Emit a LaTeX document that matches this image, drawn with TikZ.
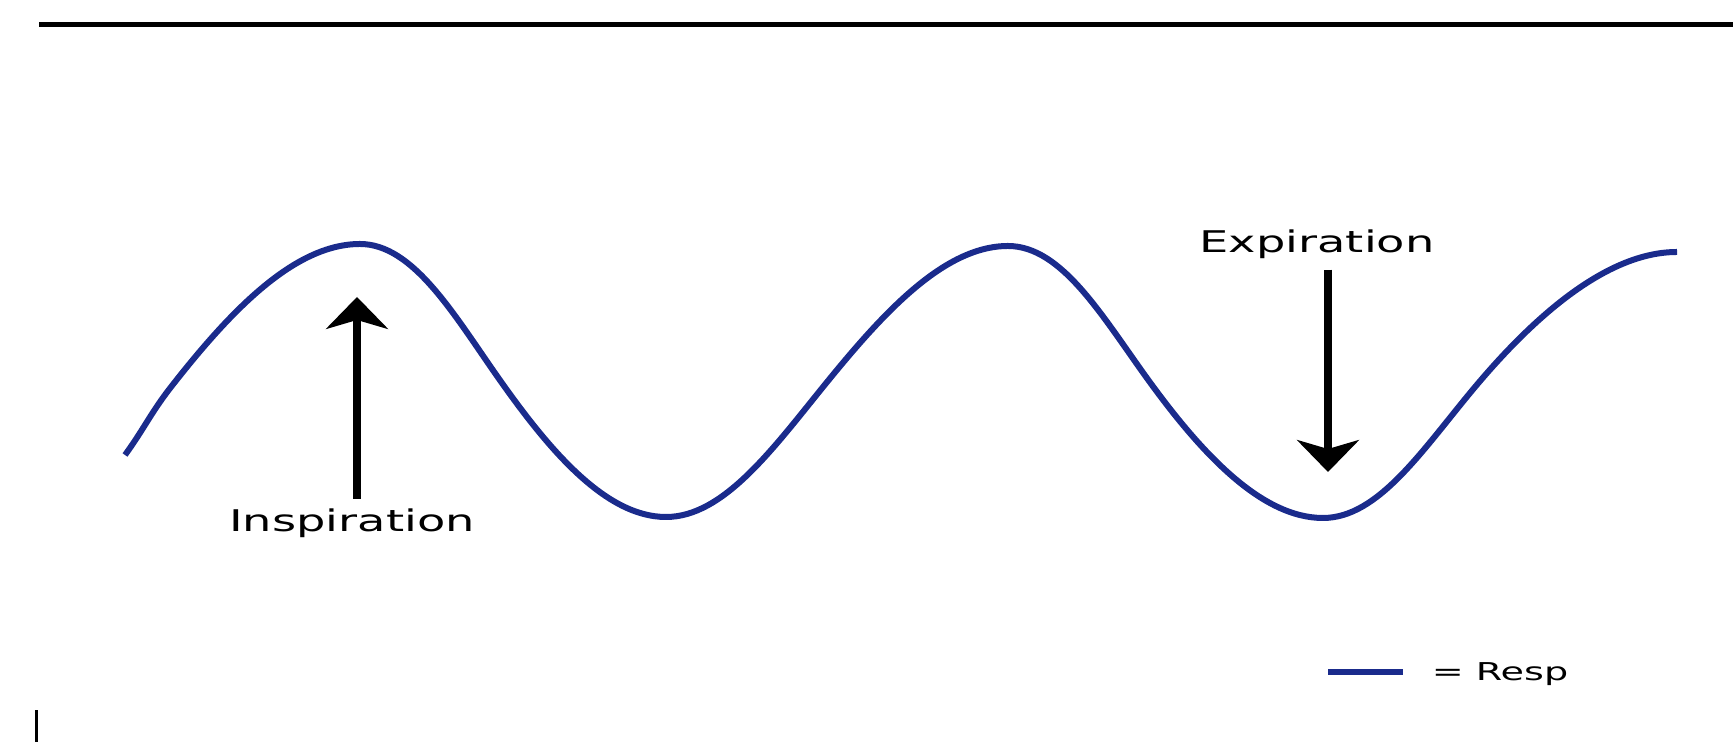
\documentclass[tikz,border=0pt]{standalone}
\usepackage{fontspec}
\setmainfont{DejaVu Sans}
\usepackage{graphicx}
\usepackage{xcolor}
\definecolor{respblue}{HTML}{1A2B8C}
\usepackage{tikz}
\usetikzlibrary{arrows.meta,positioning}
\tikzset{
  respwave/.style={draw=respblue,line width=0.12cm},
  toextreme/.style={out looseness=1.03,in looseness=0.71},
  fromextreme/.style={out looseness=0.71,in looseness=1.03},
  respflow/.style={-{Stealth[length=0.64cm,width=1.24cm,inset=0.18cm]},line width=0.15cm},
  resplabel/.style={font=\fontsize{17}{20}\selectfont,inner sep=0.2cm,anchor=base},
  respkey/.style={font=\fontsize{14}{17}\selectfont,inner sep=0pt,anchor=base},
}
\newcommand{\respwide}[1]{\scalebox{1.55}[1]{#1}}

\begin{document}
\begin{tikzpicture}[x=0.02cm,y=0.02cm]
\useasboundingbox (0,0) rectangle (1733,742);
% slide rule and corner mark
\draw[line width=0.1cm] (39,717) -- (1733,717);
\draw[line width=0.07cm] (36.5,0) -- (36.5,32);
% wave points
\coordinate (wstart) at (125,287);
\coordinate (infl0) at (171,355);
\coordinate (peak1) at (360,498);
\coordinate (infl1) at (497,366);
\coordinate (trough1) at (666,225);
\coordinate (infl2) at (823,355);
\coordinate (peak2) at (1008,496);
\coordinate (infl3) at (1149,361);
\coordinate (trough2) at (1323,224);
\coordinate (infl4) at (1475,355);
\coordinate (wend) at (1677,490);
\draw[respwave] (wstart) to[out=54,in=232] (infl0)
  to[toextreme,out=52,in=180] (peak1) to[fromextreme,out=0,in=125] (infl1)
  to[toextreme,out=-55,in=180] (trough1) to[fromextreme,out=0,in=231] (infl2)
  to[toextreme,out=51,in=180] (peak2) to[fromextreme,out=0,in=126] (infl3)
  to[toextreme,out=-54,in=180] (trough2) to[fromextreme,out=0,in=230] (infl4)
  to[toextreme,out=50,in=180] (wend);
% labels and arrows
\node[resplabel] (insp) at (352,210) {\respwide{Inspiration}};
\node[resplabel] (expi) at (1317,489) {\respwide{Expiration}};
\coordinate (insptip) at (357,445);
\coordinate (expitip) at (1328,270);
\draw[respflow] (insptip |- insp.north) -- (insptip);
\draw[respflow] (expitip |- expi.south) -- (expitip);
% legend
\coordinate (keya) at (1328,70);
\coordinate (keyb) at (1403,70);
\draw[respwave] (keya) -- (keyb);
\node[respkey] (key) at (1500,61) {\respwide{= Resp}};
\end{tikzpicture}
\end{document}
